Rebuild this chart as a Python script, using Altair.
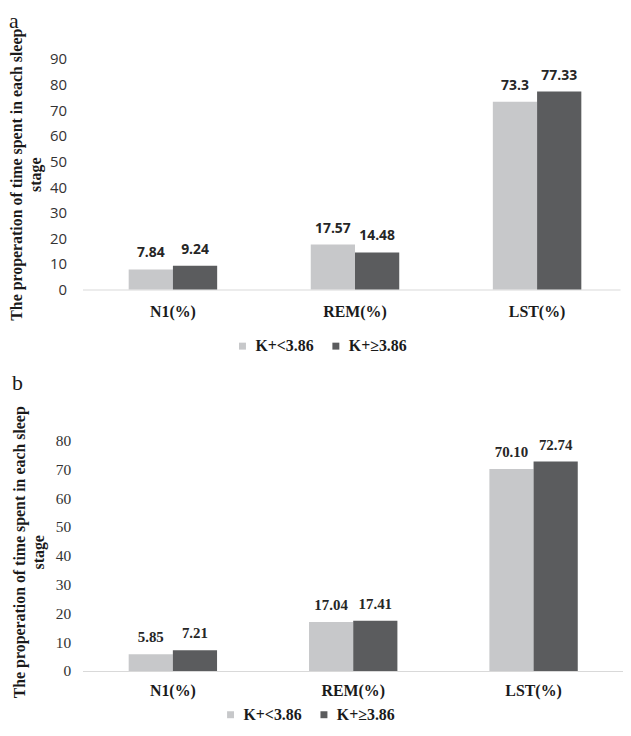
import altair as alt
import pandas as pd

categories = ["N1(%)", "REM(%)", "LST(%)"]
groups = ["K+<3.86", "K+≥3.86"]

a_low = [7.84, 17.57, 73.3]
a_high = [9.24, 14.48, 77.33]
a_low_text = ["7.84", "17.57", "73.3"]
a_high_text = ["9.24", "14.48", "77.33"]

b_low = [5.85, 17.04, 70.10]
b_high = [7.21, 17.41, 72.74]
b_low_text = ["5.85", "17.04", "70.10"]
b_high_text = ["7.21", "17.41", "72.74"]

a_ticks = [0, 10, 20, 30, 40, 50, 60, 70, 80, 90]
b_ticks = [0, 10, 20, 30, 40, 50, 60, 70, 80]

y_title = ["The properation of time spent in each sleep", "stage"]
colors = ["#c7c8ca", "#5b5c5e"]

SERIF = "Liberation Serif"
SANS = "Open Sans"


def frame(low, high, low_t, high_t):
    rows = []
    for i, c in enumerate(categories):
        rows.append({"cat": c, "grp": groups[0], "val": low[i], "lab": low_t[i]})
        rows.append({"cat": c, "grp": groups[1], "val": high[i], "lab": high_t[i]})
    return pd.DataFrame(rows)


def panel(df, letter, ticks, ymax, width, height, pad_inner, pad_outer, band_align,
          tick_font, tick_size, tick_pad, value_font, value_size, value_dy,
          cat_pad, title_x, title_y, letter_x, letter_y, legend_x, legend_y):
    x = alt.X("cat:N", sort=categories,
              scale=alt.Scale(paddingInner=pad_inner, paddingOuter=pad_outer, align=band_align),
              axis=alt.Axis(title=None, labelAngle=0, ticks=False, domain=True,
                            domainColor="#d9d9d9", domainWidth=1.2, grid=False,
                            labelFont=SERIF, labelFontSize=16, labelFontWeight="bold",
                            labelColor="#1a1a1a", labelPadding=cat_pad))
    y = alt.Y("val:Q", scale=alt.Scale(domain=[0, ymax], nice=False, zero=True),
              axis=alt.Axis(values=ticks, tickCount=len(ticks), grid=False,
                            domain=False, ticks=False, labelOverlap=False,
                            labelFont=tick_font, labelFontSize=tick_size,
                            labelColor="#333333", labelPadding=tick_pad,
                            title=y_title, titleFont=SERIF, titleFontSize=16,
                            titleFontWeight="bold", titleColor="#1a1a1a",
                            titleLineHeight=19, titleX=title_x, titleY=title_y,
                            titleAngle=270, titleBaseline="alphabetic",
                            titleAlign="center"))
    xo = alt.XOffset("grp:N", sort=groups, scale=alt.Scale(paddingInner=0, paddingOuter=0))
    color = alt.Color("grp:N", sort=groups,
                      scale=alt.Scale(domain=groups, range=colors),
                      legend=alt.Legend(title=None, orient="none", legendX=legend_x,
                                        legendY=legend_y, direction="horizontal",
                                        symbolType="square", symbolSize=49,
                                        symbolStrokeWidth=0, labelFont=SERIF,
                                        labelFontSize=16, labelFontWeight="bold",
                                        labelColor="#1a1a1a", labelOffset=5,
                                        columnPadding=14))
    base = alt.Chart(df)
    bars = base.mark_bar().encode(x=x, xOffset=xo, y=y, color=color)
    labels = base.mark_text(baseline="alphabetic", dy=value_dy, font=value_font,
                            fontSize=value_size, fontWeight="bold",
                            color="#262626").encode(
        x=x,
        xOffset=xo,
        y=y,
        text="lab:N",
    )
    letter_layer = alt.Chart(pd.DataFrame({"t": [letter]})).mark_text(
        align="left", baseline="top", font=SERIF, fontSize=22, color="#1a1a1a"
    ).encode(x=alt.value(letter_x), y=alt.value(letter_y), text="t:N")
    return alt.layer(bars, labels, letter_layer).properties(width=width, height=height)


panel_a = panel(frame(a_low, a_high, a_low_text, a_high_text), "a", a_ticks, 90,
                541, 232, 0.514, 0.233, 0.544,
                SANS, 15, 16, SANS, 14, -12,
                14, -61, 116, -74, -48, 153, 281)

panel_b = panel(frame(b_low, b_high, b_low_text, b_high_text), "b", b_ticks, 80,
                544, 232, 0.51, 0.2534, 0.505,
                SERIF, 15.5, 12, SERIF, 15, -12,
                12, -58, 112, -71, -68, 141, 268)

chart = alt.vconcat(panel_a, panel_b, spacing=18).resolve_scale(
    x="independent", y="independent", color="independent", xOffset="independent"
).resolve_legend(color="independent").properties(
    padding={"left": 0, "top": 0, "right": 0, "bottom": 0}
).configure_view(strokeWidth=0)

chart.save("out.html", embed_options={"renderer": "svg", "actions": False})
